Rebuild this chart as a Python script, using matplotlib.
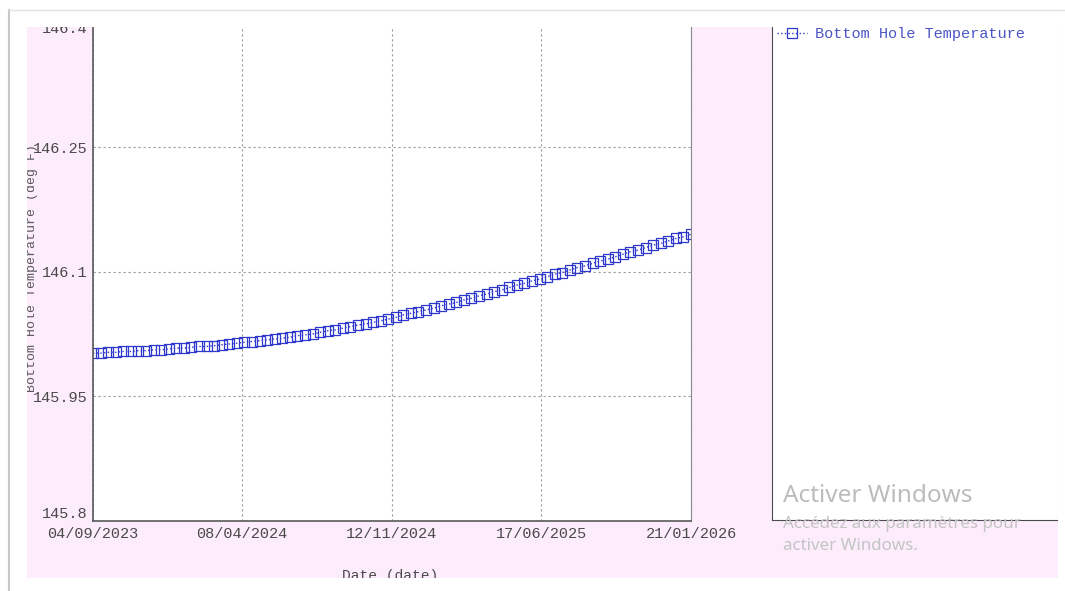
import pandas as pd
import matplotlib
matplotlib.use("Agg")
import matplotlib.pyplot as plt
import matplotlib.dates as mdates
from matplotlib.patches import Rectangle
from matplotlib.lines import Line2D

# --- DATA ---
start_date = "2023-09-04"
end_date = "2026-01-21"
temps = [
    146.002, 146.002, 146.003, 146.003, 146.004, 146.004, 146.005, 146.005,
    146.006, 146.006, 146.007, 146.008, 146.008, 146.009, 146.010, 146.010,
    146.011, 146.012, 146.013, 146.014, 146.015, 146.016, 146.017, 146.018,
    146.019, 146.020, 146.021, 146.023, 146.024, 146.025, 146.027, 146.029,
    146.030, 146.032, 146.034, 146.036, 146.037, 146.039, 146.041, 146.043,
    146.045, 146.048, 146.050, 146.052, 146.054, 146.056, 146.059, 146.061,
    146.063, 146.066, 146.068, 146.071, 146.073, 146.076, 146.078, 146.081,
    146.084, 146.086, 146.089, 146.091, 146.094, 146.097, 146.099, 146.102,
    146.105, 146.107, 146.110, 146.113, 146.115, 146.118, 146.121, 146.124,
    146.126, 146.129, 146.132, 146.134, 146.137, 146.140, 146.142, 146.145,
]
x_ticks = ["2023-09-04", "2024-04-08", "2024-11-12", "2025-06-17", "2026-01-21"]
y_ticks = [145.8, 145.95, 146.1, 146.25, 146.4]
series_name = "Bottom Hole Temperature"
y_label = "Bottom Hole Temperature (deg F)"
x_label = "Date (date)"

dates = pd.date_range(start_date, end_date, periods=len(temps))

W, H = 1065, 591
fig = plt.figure(figsize=(W / 100, H / 100), dpi=100)
fig.patch.set_facecolor("white")

def fx(px):
    return px / W

def fy(py):
    return 1 - py / H

# pink page background
fig.patches.append(Rectangle((fx(27), fy(578)), fx(1058) - fx(27), fy(27) - fy(578),
                             transform=fig.transFigure, facecolor="#fdedfc",
                             edgecolor="none", zorder=-5))

mono = "Liberation Mono"
blue = "#2f38cc"

# --- main plot ---
ax = fig.add_axes([fx(93), fy(521), fx(691) - fx(93), fy(22.4) - fy(521)])
ax.set_facecolor("white")
ax.plot(dates, temps, linestyle=":", linewidth=1.0, color=blue,
        marker="s", markersize=7.5, markerfacecolor="none",
        markeredgecolor=blue, markeredgewidth=0.9)

ax.set_xlim(pd.Timestamp(start_date), pd.Timestamp(end_date))
ax.set_ylim(y_ticks[0], y_ticks[-1])
ax.set_xticks(pd.to_datetime(x_ticks))
ax.xaxis.set_major_formatter(mdates.DateFormatter("%d/%m/%Y"))
ax.set_yticks(y_ticks)
ax.set_yticklabels([f"{v:g}" for v in y_ticks])
ax.tick_params(length=0, labelsize=11, labelcolor="#4a4a4a", pad=4)
for lab in ax.get_xticklabels() + ax.get_yticklabels():
    lab.set_fontfamily(mono)
ylabs = ax.get_yticklabels()
ylabs[0].set_va("bottom")
ylabs[-1].set_va("top")

ax.grid(True, linestyle=(0, (2, 2.5)), color="#9a9a9a", linewidth=0.8)
for side in ["left", "bottom"]:
    ax.spines[side].set_color("#5a5a5a")
    ax.spines[side].set_linewidth(1.2)
ax.spines["right"].set_color("#8a8a8a")
ax.spines["top"].set_visible(False)

fig.text(fx(32), fy(268), y_label, rotation=90, ha="center", va="center",
         fontsize=9.5, color="#5a5a5a", family=mono)
fig.text(fx(390), fy(569), x_label, ha="center", va="top",
         fontsize=10.5, color="#4a4a4a", family=mono)

# --- legend panel ---
lax = fig.add_axes([fx(772), fy(520), fx(1058) - fx(772), fy(22.4) - fy(520)])
lax.set_facecolor("white")
lax.set_xticks([])
lax.set_yticks([])
lax.spines["left"].set_color("#4a4a4a")
lax.spines["bottom"].set_color("#4a4a4a")
lax.spines["right"].set_color("#d8d8d8")
lax.spines["top"].set_visible(False)
handle = Line2D([], [], linestyle=":", linewidth=1.0, color=blue, marker="s",
                markersize=7, markerfacecolor="none", markeredgecolor=blue,
                markeredgewidth=0.9)
leg = lax.legend([handle], [series_name], loc="upper left", bbox_to_anchor=(0.0, 1.0),
                 frameon=False, borderaxespad=0, borderpad=0.3, handlelength=2.0,
                 handletextpad=0.5, prop={"family": mono, "size": 11})
for t in leg.get_texts():
    t.set_color("#4b56c4")

# --- screenshot edges (white crop bands and frame line) ---
for (x0, y0, x1, y1) in [(0, 0, W, 27), (0, 578, W, H), (0, 0, 27, H), (1058, 0, W, H)]:
    fig.patches.append(Rectangle((fx(x0), fy(y1)), fx(x1) - fx(x0), fy(y0) - fy(y1),
                                 transform=fig.transFigure, facecolor="white",
                                 edgecolor="none", zorder=10))
fig.lines.append(Line2D([fx(9), fx(9)], [fy(10), fy(H)], transform=fig.transFigure,
                        color="#c8c8c8", linewidth=1.5, zorder=11))
fig.lines.append(Line2D([fx(9), fx(W)], [fy(10), fy(10)], transform=fig.transFigure,
                        color="#e2e2e2", linewidth=1.0, zorder=11))

# --- Windows activation watermark ---
wm = ["Noto Sans", "DejaVu Sans"]
fig.text(fx(783), fy(496), "Activer Windows", ha="left", va="center",
         fontsize=17.5, color="#bcbcbc", family=wm, zorder=12)
fig.text(fx(783), fy(524), "Accédez aux paramètres pour", ha="left", va="center",
         fontsize=12.2, color="#c4c4c4", family=wm, zorder=12)
fig.text(fx(783), fy(546), "activer Windows.", ha="left", va="center",
         fontsize=12.2, color="#c4c4c4", family=wm, zorder=12)

fig.savefig("out.png", dpi=100)
